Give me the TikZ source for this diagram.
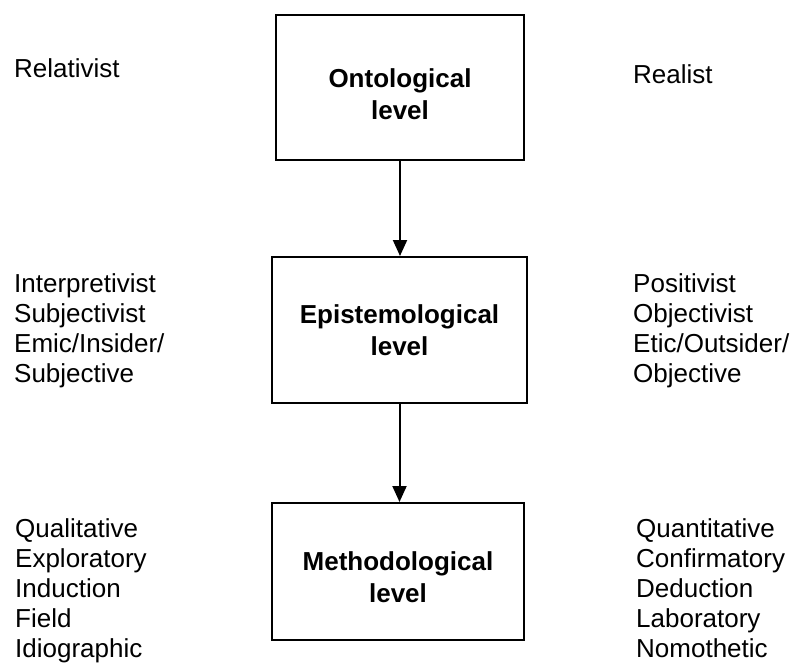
\documentclass[tikz,border=0pt]{standalone}
\usepackage{fontspec}
\setmainfont{Liberation Sans}
\usetikzlibrary{arrows.meta}
\begin{document}
\begin{tikzpicture}[x=1pt,y=-1pt,
  levelbox/.style={draw=black, line width=2pt, rectangle, inner sep=0pt},
  leveltext/.style={anchor=north, align=center, inner sep=0pt,
    font=\fontsize{26}{32}\selectfont\bfseries},
  sidetext/.style={anchor=north west, align=left, inner sep=0pt,
    font=\fontsize{26}{30}\selectfont},
  flow/.style={draw=black, line width=2pt, -{Triangle[length=16pt,width=14pt]}}]
\useasboundingbox (0,0) rectangle (794,663);

% the three levels
\node[levelbox, minimum width=248pt, minimum height=145pt] (onto) at (400,87.5) {};
\node[levelbox, minimum width=255pt, minimum height=146pt] (epi) at (399.5,330) {};
\node[levelbox, minimum width=252pt, minimum height=137pt] (meth) at (398,571.5) {};

\node[leveltext] (ontotxt) at (400,68) {Ontological\\level};
\node[leveltext] (epitxt) at (399.5,304) {Epistemological\\level};
\node[leveltext] (methtxt) at (398,551) {Methodological\\level};

% links between the levels
\draw[flow] (onto.south) -- (onto.south |- epi.north);
\draw[flow] (epi.south) -- (epi.south |- meth.north);

% positions on either side
\node[sidetext] (rel) at (14,58) {Relativist};
\node[sidetext] (real) at (633,64) {Realist};
\node[sidetext] (interp) at (14,273) {Interpretivist\\Subjectivist\\Emic/Insider/\\Subjective};
\node[sidetext] (posit) at (633,273) {Positivist\\Objectivist\\Etic/Outsider/\\Objective};
\node[sidetext] (qual) at (15,518) {Qualitative\\Exploratory\\Induction\\Field\\Idiographic};
\node[sidetext] (quant) at (636,518) {Quantitative\\Confirmatory\\Deduction\\Laboratory\\Nomothetic};
\end{tikzpicture}
\end{document}
